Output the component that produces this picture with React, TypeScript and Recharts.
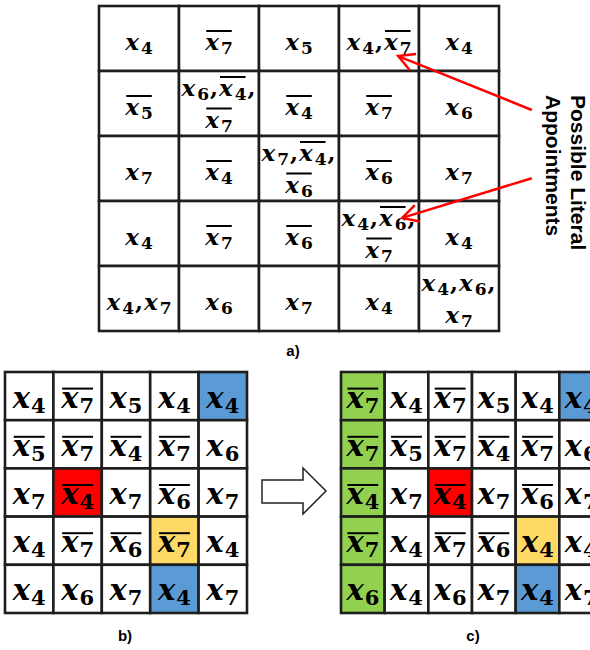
import React from 'react'
import { ScatterChart, Scatter, XAxis, YAxis, ReferenceLine } from 'recharts'

// "~" = negated literal (overline), "|" = line break inside a cell
const GRID_A = [
  ['x4', '~x7', 'x5', 'x4,~x7', 'x4'],
  ['~x5', 'x6,~x4,|~x7', '~x4', '~x7', 'x6'],
  ['x7', '~x4', 'x7,~x4,|~x6', '~x6', 'x7'],
  ['x4', '~x7', '~x6', 'x4,~x6,|~x7', 'x4'],
  ['x4,x7', 'x6', 'x7', 'x4', 'x4,x6,|x7'],
]

const GRID_B = [
  ['x4', '~x7', 'x5', 'x4', 'x4'],
  ['~x5', '~x7', '~x4', '~x7', 'x6'],
  ['x7', '~x4', 'x7', '~x6', 'x7'],
  ['x4', '~x7', '~x6', '~x7', 'x4'],
  ['x4', 'x6', 'x7', 'x4', 'x7'],
]
const FILL_B = [
  ['', '', '', '', 'B'],
  ['', '', '', '', ''],
  ['', 'R', '', '', ''],
  ['', '', '', 'Y', ''],
  ['', '', '', 'B', ''],
]

const GRID_C = [
  ['~x7', 'x4', '~x7', 'x5', 'x4', 'x4'],
  ['~x7', '~x5', '~x7', '~x4', '~x7', 'x6'],
  ['~x4', 'x7', '~x4', 'x7', '~x6', 'x7'],
  ['~x7', 'x4', '~x7', '~x6', 'x4', 'x4'],
  ['x6', 'x4', 'x6', 'x7', 'x4', 'x7'],
]
const FILL_C = [
  ['G', '', '', '', '', 'B'],
  ['G', '', '', '', '', ''],
  ['G', '', 'R', '', '', ''],
  ['G', '', '', '', 'Y', ''],
  ['G', '', '', '', 'B', ''],
]

// arrows in grid-a cell units: [fromCol, fromRow, toCol, toRow]
const ARROWS_A = [
  [5.41, 1.6, 3.74, 0.77],
  [5.41, 2.65, 3.79, 3.26],
]

const LABEL_LINES = ['Possible Literal', 'Appointments']
const PANEL_LABELS = ['a)', 'b)', 'c)']

const COLORS: Record<string, string> = {
  '': '#ffffff',
  B: '#5b9bd5',
  R: '#ff0000',
  Y: '#ffd966',
  G: '#92d050',
}
const BORDER = '#1e1e1e'
const SERIF = '"DejaVu Serif", serif'
const SANS = '"Liberation Sans", Arial, sans-serif'

type Cell = { x: number; y: number; text: string; fill: string }

function toCells(grid: string[][], fills?: string[][]): Cell[] {
  const out: Cell[] = []
  grid.forEach((row, r) =>
    row.forEach((text, c) => {
      out.push({ x: c + 0.5, y: r + 0.5, text, fill: fills ? fills[r][c] : '' })
    }),
  )
  return out
}

type Tok = { lit: boolean; v: string; neg: boolean }

function parseLine(s: string): Tok[] {
  const out: Tok[] = []
  let i = 0
  while (i < s.length) {
    if (s[i] === ',') {
      out.push({ lit: false, v: ',', neg: false })
      i++
      continue
    }
    let neg = false
    if (s[i] === '~') {
      neg = true
      i++
    }
    i++ // the x
    let d = ''
    while (i < s.length && /\d/.test(s[i])) d += s[i++]
    out.push({ lit: true, v: d, neg })
  }
  return out
}

let ctx: CanvasRenderingContext2D | null = null
function measure(text: string, font: string) {
  if (!ctx) ctx = document.createElement('canvas').getContext('2d')
  ctx!.font = font
  return ctx!.measureText(text).width
}

type TextStyle = {
  size: number
  sub: number
  subDy: number
  over: number
  single: number // baseline offset from cell centre, one line
  first: number // baseline of first line, two lines
  gap: number
  pad: number
  comma: number
}

function makeCellShape(cw: number, ch: number, st: TextStyle) {
  const mainFont = `italic bold ${st.size}px ${SERIF}`
  const subFont = `bold ${st.sub}px ${SERIF}`
  const commaFont = `bold ${st.size}px ${SERIF}`
  const wx = measure('x', mainFont) + st.pad
  const wc = measure(',', commaFont) * st.comma

  return (props: any) => {
    const { cx, cy, payload } = props
    const lines = (payload.text as string).split('|')
    const els: React.ReactNode[] = []
    lines.forEach((line, li) => {
      const toks = parseLine(line)
      const base = lines.length === 1 ? cy + st.single : cy + st.first + li * st.gap
      const widths = toks.map((t) => (t.lit ? wx + measure(t.v, subFont) : wc))
      const total = widths.reduce((a, b) => a + b, 0)
      let pos = cx - total / 2
      toks.forEach((t, ti) => {
        const k = `${li}-${ti}`
        if (t.lit) {
          els.push(
            <text key={`x${k}`} x={pos} y={base} fontFamily={SERIF} fontStyle="italic" fontWeight="bold" fontSize={st.size} fill="#000">
              x
            </text>,
          )
          els.push(
            <text key={`d${k}`} x={pos + wx} y={base + st.subDy} fontFamily={SERIF} fontWeight="bold" fontSize={st.sub} fill="#000">
              {t.v}
            </text>,
          )
          if (t.neg) {
            els.push(
              <line key={`o${k}`} x1={pos + 1} x2={pos + widths[ti] - 1} y1={base - st.over} y2={base - st.over} stroke="#000" strokeWidth={2} />,
            )
          }
        } else {
          els.push(
            <text key={`c${k}`} x={pos + 1} y={base} fontFamily={SERIF} fontWeight="bold" fontSize={st.size} fill="#000">
              ,
            </text>,
          )
        }
        pos += widths[ti]
      })
    })
    return (
      <g>
        <rect x={cx - cw / 2} y={cy - ch / 2} width={cw} height={ch} fill={COLORS[payload.fill]} stroke={BORDER} strokeWidth={2.6} />
        {els}
      </g>
    )
  }
}

function arrowShape(props: any) {
  const { x1, y1, x2, y2 } = props
  const a = Math.atan2(y2 - y1, x2 - x1)
  const L = 18
  const s = 0.5
  const p1 = `${x2 - L * Math.cos(a - s)},${y2 - L * Math.sin(a - s)}`
  const p2 = `${x2 - L * Math.cos(a + s)},${y2 - L * Math.sin(a + s)}`
  return (
    <g>
      <line x1={x1} y1={y1} x2={x2} y2={y2} stroke="#ff0000" strokeWidth={2.5} />
      <polyline points={`${p1} ${x2},${y2} ${p2}`} fill="none" stroke="#ff0000" strokeWidth={2.5} />
    </g>
  )
}

const STYLE_A: TextStyle = { size: 23, sub: 17, subDy: 4, over: 19, single: 11.5, first: -7.5, gap: 31.5, pad: 2, comma: 1.25 }
const STYLE_BC: TextStyle = { size: 29, sub: 21, subDy: 5, over: 19, single: 11.5, first: 0, gap: 30, pad: 1, comma: 1.3 }

const A_EXTRA = 491 / 80 - 5
const shapeA = makeCellShape(80, 65, STYLE_A)
const shapeB = makeCellShape(242 / 5, 241 / 5, STYLE_BC)
const shapeC = makeCellShape(262 / 6, 241 / 5, STYLE_BC)

const arrowEnds = ARROWS_A.flatMap((a) => [
  { x: a[0], y: a[1] },
  { x: a[2], y: a[3] },
])

function Grid({ data, shape, cols, rows, width, height, extraCols, children }: any) {
  return (
    <ScatterChart width={width} height={height} margin={{ top: 2, right: extraCols ? 0 : 2, bottom: 2, left: 2 }}>
      <XAxis dataKey="x" type="number" domain={[0, cols + (extraCols ?? 0)]} hide />
      <YAxis dataKey="y" type="number" domain={[0, rows]} reversed hide />
      <Scatter data={data} shape={shape} isAnimationActive={false} />
      {children}
    </ScatterChart>
  )
}

export default function App() {
  const abs = (left: number, top: number): React.CSSProperties => ({ position: 'absolute', left, top })
  return (
    <div style={{ position: 'absolute', left: 0, top: 0, width: 590, height: 650, overflow: 'hidden', background: '#fff' }}>
      <div style={abs(97, 4)}>
        <Grid data={toCells(GRID_A)} shape={shapeA} cols={5} rows={5} width={493} height={329} extraCols={A_EXTRA} />
      </div>
      {/* same scales again, on top, for the pointer arrows */}
      <div style={abs(97, 4)}>
        <Grid data={arrowEnds} shape={() => <g />} cols={5} rows={5} width={493} height={329} extraCols={A_EXTRA}>
          {ARROWS_A.map((a, i) => (
            <ReferenceLine
              key={i}
              segment={[
                { x: a[0], y: a[1] },
                { x: a[2], y: a[3] },
              ]}
              ifOverflow="visible"
              shape={arrowShape}
            />
          ))}
        </Grid>
      </div>
      <div style={abs(3, 370)}>
        <Grid data={toCells(GRID_B, FILL_B)} shape={shapeB} cols={5} rows={5} width={246} height={245} />
      </div>
      <div style={abs(339, 370)}>
        <Grid data={toCells(GRID_C, FILL_C)} shape={shapeC} cols={6} rows={5} width={266} height={245} />
      </div>
      <svg width={590} height={650} style={{ position: 'absolute', left: 0, top: 0, pointerEvents: 'none' }}>
        <g transform="translate(571,95) rotate(90)" fontFamily={SANS} fontWeight="bold" fontSize={21} fill="#000">
          {LABEL_LINES.map((t, i) => (
            <text key={t} x={0} y={i * 25}>
              {t}
            </text>
          ))}
        </g>
        <polygon points="262,480 303,480 303,468 326,491 303,514 303,503 262,503" fill="#fff" stroke="#222" strokeWidth={1.5} />
        {PANEL_LABELS.map((t, i) => (
          <text
            key={t}
            x={[293, 125, 473][i]}
            y={[356, 641, 641][i]}
            textAnchor="middle"
            fontFamily={SANS}
            fontWeight="bold"
            fontSize={15}
            fill="#000"
          >
            {t}
          </text>
        ))}
      </svg>
    </div>
  )
}
